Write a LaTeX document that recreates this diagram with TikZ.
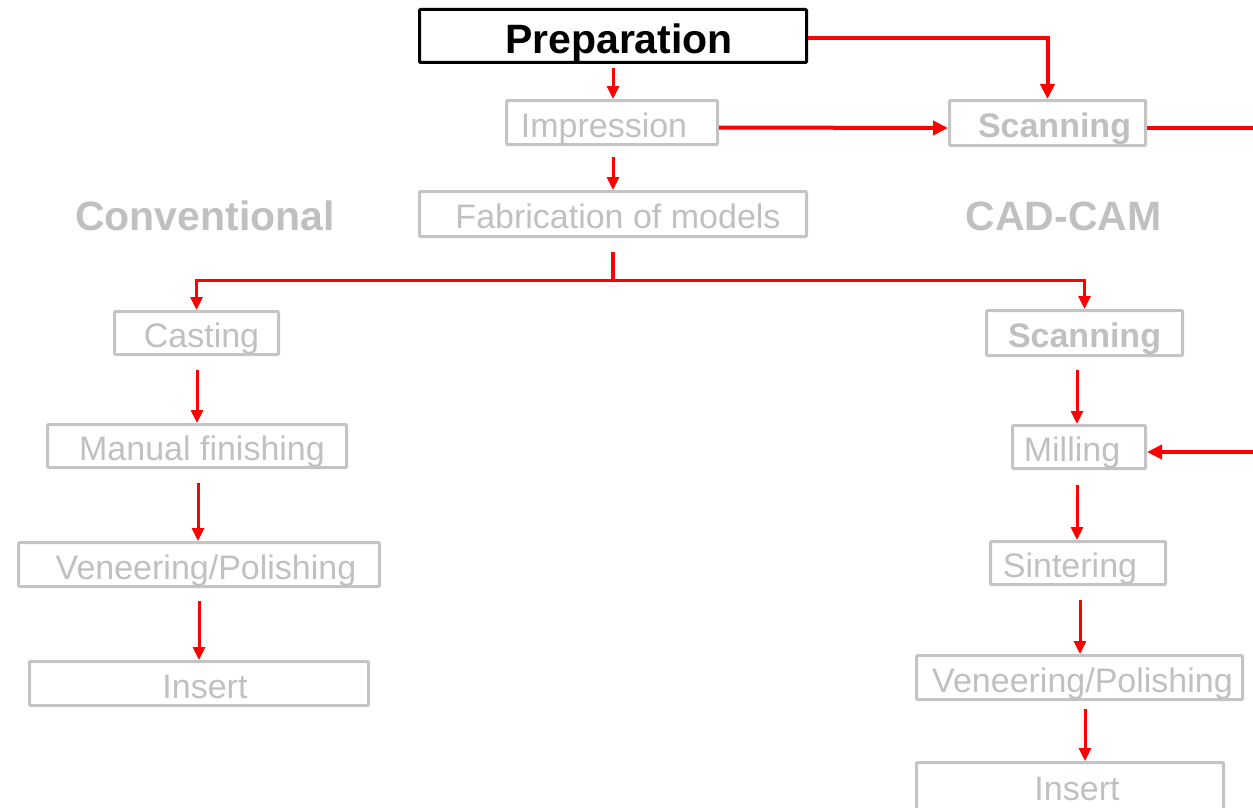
\documentclass[tikz,border=0pt]{standalone}
\usepackage{fontspec}
\setmainfont{Liberation Sans}
\usetikzlibrary{arrows.meta}
\definecolor{lgray}{RGB}{196,196,196}
\definecolor{txtgray}{RGB}{192,192,192}
\begin{document}
\begin{tikzpicture}[x=1pt,y=-1pt,
 box/.style={draw=lgray, line width=3pt, rounded corners=1pt, text=txtgray,
   font=\fontsize{34}{40}\selectfont, text height=29pt, text depth=0pt, inner sep=0pt},
 bbox/.style={box, font=\bfseries\fontsize{34}{40}\selectfont},
 prepbox/.style={draw=black, line width=3pt, rounded corners=1pt, text=black,
   font=\bfseries\fontsize{41}{48}\selectfont, text height=35pt, text depth=0pt, inner sep=0pt},
 head/.style={text=txtgray, font=\bfseries\fontsize{41}{48}\selectfont, anchor=base, inner sep=0pt},
 arr/.style={draw=red, line width=3pt, -{Triangle[length=13pt,width=12pt]}},
 big/.style={draw=red, line width=4pt, -{Triangle[length=15pt,width=14pt]}},
 ln/.style={draw=red, line width=3.5pt}]
\useasboundingbox (0,0) rectangle (1253,808);

% nodes
\node[prepbox, minimum width=387pt, minimum height=53pt] (prep) at (613,36) {\hspace*{12pt}Preparation};
\node[box, minimum width=211pt, minimum height=44pt] (imp) at (612,122.5) {Impression\hspace*{16pt}};
\node[bbox, minimum width=196pt, minimum height=45pt] (scanT) at (1047.5,123) {\hspace*{14pt}Scanning};
\node[box, minimum width=387pt, minimum height=45pt] (fab) at (613,214) {\hspace*{10pt}Fabrication of models};
\node[head] (conv) at (205,230) {Conventional};
\node[head] (cadcam) at (1063.5,230) {CAD-CAM};

\node[box, minimum width=164pt, minimum height=43pt] (cast) at (196.5,333) {\hspace*{10pt}Casting};
\node[box, minimum width=299pt, minimum height=43pt] (man) at (197,446) {\hspace*{10pt}Manual finishing};
\node[box, minimum width=361pt, minimum height=44pt] (venL) at (199,564.5) {\hspace*{14pt}Veneering/Polishing};
\node[box, minimum width=339pt, minimum height=44pt] (insL) at (199,683.5) {\hspace*{12pt}Insert};

\node[bbox, minimum width=196pt, minimum height=45pt] (scanR) at (1084.5,333) {Scanning};
\node[box, minimum width=133pt, minimum height=43pt] (mill) at (1079,447) {Milling\hspace*{14pt}};
\node[box, minimum width=175pt, minimum height=43pt] (sint) at (1078,563) {Sintering\hspace*{16pt}};
\node[box, minimum width=326pt, minimum height=44pt] (venR) at (1079.5,677.5) {\hspace*{6pt}Veneering/Polishing};
\node[box, minimum width=307pt, minimum height=47pt] (insR) at (1070,786) {\hspace*{14pt}Insert};

\coordinate (outR) at (1253,128);
\coordinate (inR) at (1253,452);
\coordinate (br) at (613,280);

% connectors
\draw[big] ([yshift=-2pt]prep.east) -| (scanT.north);
\draw[arr] ([yshift=-4pt]prep.south) -- (prep.south |- imp.north);
\draw[big] ([yshift=-5pt]imp.east) -- ([yshift=-5pt]scanT.west);
\draw[ln, line width=4pt] ([yshift=-5pt]scanT.east) -- (outR);
\draw[arr] ([xshift=1pt,yshift=-11pt]imp.south) -- (fab.north);
\draw[ln] ([yshift=-14pt]fab.south) -- (br);
\draw[arr] (br) -| (cast.north);
\draw[arr] (br) -| (scanR.north);

\draw[arr] ([xshift=0.5pt,yshift=-14pt]cast.south) -- ([xshift=0pt]man.north);
\draw[arr] ([xshift=1pt,yshift=-14pt]man.south) -- ([xshift=-1pt]venL.north);
\draw[arr] ([yshift=-13pt]venL.south) -- (insL.north);

\draw[arr] ([xshift=-7.5pt,yshift=-13pt]scanR.south) -- ([xshift=-2pt]mill.north);
\draw[big] (inR) -- ([yshift=-5pt]mill.east);
\draw[arr] ([xshift=-2pt,yshift=-15pt]mill.south) -- ([xshift=-1pt]sint.north);
\draw[arr] ([xshift=2pt,yshift=-14pt]sint.south) -- ([xshift=0.5pt]venR.north);
\draw[arr] ([xshift=5.5pt,yshift=-8pt]venR.south) -- ([xshift=15pt]insR.north);
\end{tikzpicture}
\end{document}
